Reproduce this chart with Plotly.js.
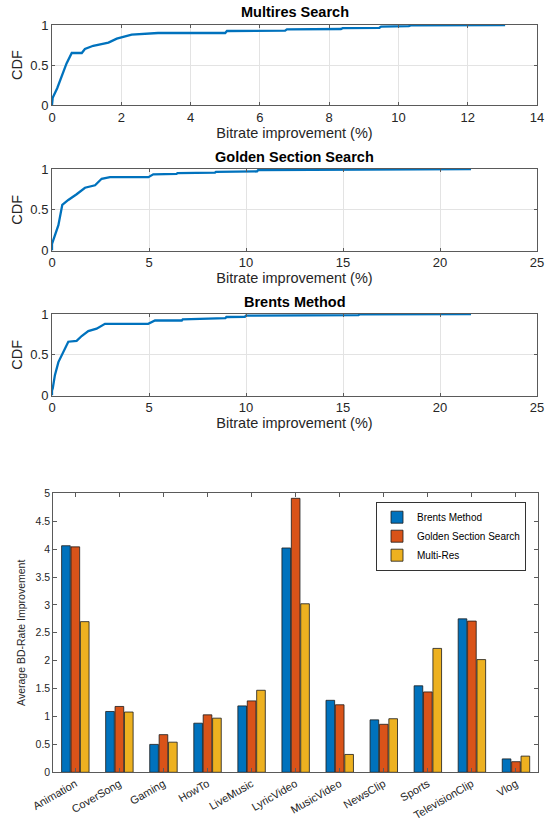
<!DOCTYPE html>
<html>
<head>
<meta charset="utf-8">
<script src="https://cdn.plot.ly/plotly-3.0.1.min.js"></script>
<style>html,body{margin:0;padding:0;background:#fff;}#chart{width:550px;height:821px;}</style>
</head>
<body>
<div id="chart"></div>
<script>
// ---- CDF data ----
const multiresX = [0, 0, 0.02, 0.15, 0.28, 0.42, 0.57, 0.86, 0.95, 1.19, 1.63, 1.87, 2.30, 3.06, 5.0, 5.05, 6.73, 6.78, 8.34, 8.39, 9.45, 9.5, 10.3, 10.35, 13.08];
const multiresY = [0, 0.08, 0.09, 0.21, 0.35, 0.52, 0.65, 0.65, 0.70, 0.74, 0.78, 0.83, 0.88, 0.90, 0.90, 0.925, 0.93, 0.945, 0.95, 0.96, 0.965, 0.98, 0.985, 0.995, 1.0];

const goldenX = [0, 0, 0.04, 0.33, 0.53, 0.84, 1.27, 1.70, 2.22, 2.56, 2.99, 4.97, 5.22, 6.42, 6.47, 8.4, 8.45, 10.57, 10.62, 15.8, 15.85, 21.6];
const goldenY = [0, 0.08, 0.11, 0.31, 0.56, 0.62, 0.69, 0.77, 0.80, 0.88, 0.90, 0.90, 0.935, 0.94, 0.95, 0.955, 0.965, 0.97, 0.985, 0.99, 0.995, 1.0];

const brentsX = [0, 0, 0.04, 0.15, 0.33, 0.58, 0.84, 1.27, 1.53, 1.87, 2.30, 2.73, 4.96, 5.31, 6.69, 6.74, 7.6, 7.65, 8.94, 8.99, 9.94, 9.99, 15.8, 15.85, 21.6];
const brentsY = [0, 0.06, 0.09, 0.25, 0.41, 0.54, 0.66, 0.67, 0.73, 0.79, 0.82, 0.88, 0.88, 0.92, 0.92, 0.935, 0.94, 0.947, 0.95, 0.963, 0.965, 0.98, 0.985, 0.995, 1.0];

// ---- Bar data ----
const categories = ["Animation", "CoverSong", "Gaming", "HowTo", "LiveMusic", "LyricVideo", "MusicVideo", "NewsClip", "Sports", "TelevisionClip", "Vlog"];
const brentsMethod = [4.06, 1.09, 0.50, 0.88, 1.19, 4.02, 1.29, 0.94, 1.55, 2.75, 0.24];
const goldenSection = [4.04, 1.18, 0.675, 1.03, 1.28, 4.91, 1.21, 0.86, 1.44, 2.71, 0.19];
const multiRes = [2.70, 1.08, 0.54, 0.97, 1.47, 3.02, 0.32, 0.96, 2.22, 2.02, 0.29];

const W = 550, H = 821;
const fontFam = "Liberation Sans, Arial, Helvetica, sans-serif";
const txt = "#262626";
const axLine = "#5a5a5a";
const blue = "#0072BD", orange = "#D95319", yellow = "#EDB120";

function px2x(p) { return p / W; }
function yDom(top, bottom) { return [1 - bottom / H, 1 - top / H]; }

const cdfX = [px2x(52), px2x(537)];
const cdfCommon = {
  showline: true, mirror: 'ticks', linecolor: axLine, linewidth: 1,
  ticks: 'inside', ticklen: 3, tickcolor: axLine,
  showgrid: true, gridcolor: '#e3e3e3', gridwidth: 1, zeroline: false,
  tickfont: {family: fontFam, size: 13, color: txt}
};

function cdfTrace(x, y, xa, ya) {
  return {x: x, y: y, xaxis: xa, yaxis: ya, type: 'scatter', mode: 'lines',
    line: {color: blue, width: 2.3}, showlegend: false, hoverinfo: 'skip'};
}

const barLine = {color: '#1a1a1a', width: 0.8};
const traces = [
  cdfTrace(multiresX, multiresY, 'x', 'y'),
  cdfTrace(goldenX, goldenY, 'x2', 'y2'),
  cdfTrace(brentsX, brentsY, 'x3', 'y3'),
  {x: categories, y: brentsMethod, name: 'Brents Method', type: 'bar', xaxis: 'x4', yaxis: 'y4',
   marker: {color: blue, line: barLine}},
  {x: categories, y: goldenSection, name: 'Golden Section Search', type: 'bar', xaxis: 'x4', yaxis: 'y4',
   marker: {color: orange, line: barLine}},
  {x: categories, y: multiRes, name: 'Multi-Res', type: 'bar', xaxis: 'x4', yaxis: 'y4',
   marker: {color: yellow, line: barLine}}
];

function xTitle() { return {text: 'Bitrate improvement (%)', font: {family: fontFam, size: 14.5, color: txt}, standoff: 3}; }
function yTitle() { return {text: 'CDF', font: {family: fontFam, size: 14.5, color: txt}, standoff: 4}; }

const titleFont = {family: fontFam, size: 14.5, color: '#000'};
const layout = {
  width: W, height: H,
  margin: {l: 0, r: 0, t: 0, b: 0},
  paper_bgcolor: '#fff', plot_bgcolor: '#fff',
  font: {family: fontFam, color: txt},
  barmode: 'group', bargap: 0.36, bargroupgap: 0.08,
  xaxis: Object.assign({}, cdfCommon, {domain: cdfX, range: [0, 14], dtick: 2, tick0: 0, anchor: 'y', title: xTitle()}),
  yaxis: Object.assign({}, cdfCommon, {domain: yDom(25, 105), range: [0, 1], tickvals: [0, 0.5, 1], ticktext: ['0', '0.5', '1'], anchor: 'x', title: yTitle()}),
  xaxis2: Object.assign({}, cdfCommon, {domain: cdfX, range: [0, 25], dtick: 5, tick0: 0, anchor: 'y2', title: xTitle()}),
  yaxis2: Object.assign({}, cdfCommon, {domain: yDom(169, 250.5), range: [0, 1], tickvals: [0, 0.5, 1], ticktext: ['0', '0.5', '1'], anchor: 'x2', title: yTitle()}),
  xaxis3: Object.assign({}, cdfCommon, {domain: cdfX, range: [0, 25], dtick: 5, tick0: 0, anchor: 'y3', title: xTitle()}),
  yaxis3: Object.assign({}, cdfCommon, {domain: yDom(314, 395.5), range: [0, 1], tickvals: [0, 0.5, 1], ticktext: ['0', '0.5', '1'], anchor: 'x3', title: yTitle()}),
  xaxis4: {domain: [px2x(53.3), px2x(538)], anchor: 'y4', range: [-0.5, 10.5],
    showline: true, mirror: 'ticks', linecolor: axLine, linewidth: 1,
    ticks: 'inside', ticklen: 4, tickcolor: axLine, tickangle: -30,
    showgrid: false, zeroline: false,
    tickfont: {family: fontFam, size: 11, color: txt}},
  yaxis4: {domain: yDom(493.3, 772.3), anchor: 'x4', range: [0, 5], dtick: 0.5, tick0: 0,
    showline: true, mirror: 'ticks', linecolor: axLine, linewidth: 1,
    ticks: 'inside', ticklen: 4, tickcolor: axLine,
    showgrid: false, zeroline: false,
    tickfont: {family: fontFam, size: 10.5, color: txt},
    title: {text: 'Average BD-Rate Improvement', font: {family: fontFam, size: 10.5, color: txt}, standoff: 7}},
  showlegend: true,
  legend: {x: px2x(376), y: 1 - 501.7 / H, xanchor: 'left', yanchor: 'top',
    bgcolor: '#fff', bordercolor: '#333', borderwidth: 1,
    font: {family: fontFam, size: 10, color: '#000'}, tracegroupgap: 0, itemwidth: 30},
  annotations: [
    {text: '<b>Multires Search</b>', x: (cdfX[0] + cdfX[1]) / 2, y: 1 - 12 / H, xref: 'paper', yref: 'paper', xanchor: 'center', yanchor: 'middle', showarrow: false, font: titleFont},
    {text: '<b>Golden Section Search</b>', x: (cdfX[0] + cdfX[1]) / 2, y: 1 - 157 / H, xref: 'paper', yref: 'paper', xanchor: 'center', yanchor: 'middle', showarrow: false, font: titleFont},
    {text: '<b>Brents Method</b>', x: (cdfX[0] + cdfX[1]) / 2, y: 1 - 302 / H, xref: 'paper', yref: 'paper', xanchor: 'center', yanchor: 'middle', showarrow: false, font: titleFont}
  ]
};

Plotly.newPlot('chart', traces, layout, {displayModeBar: false, staticPlot: true});
</script>
</body>
</html>
